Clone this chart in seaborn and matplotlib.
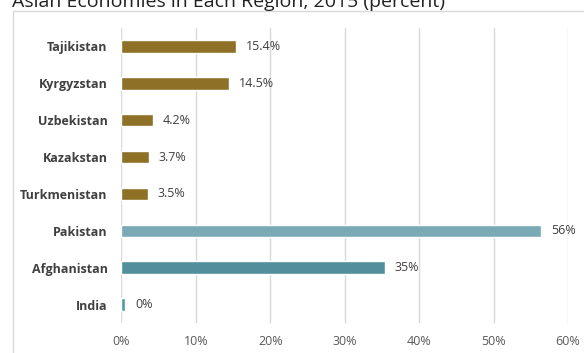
import matplotlib
matplotlib.use("Agg")
import matplotlib.pyplot as plt
from matplotlib.patches import Rectangle
from matplotlib.ticker import FuncFormatter
import seaborn as sns
import pandas as pd

countries = ["Tajikistan", "Kyrgyzstan", "Uzbekistan", "Kazakstan", "Turkmenistan",
             "Pakistan", "Afghanistan", "India"]
shares = [15.4, 14.5, 4.2, 3.7, 3.5, 56.4, 35.4, 0.5]
value_labels = ["15.4%", "14.5%", "4.2%", "3.7%", "3.5%", "56%", "35%", "0%"]
bar_colors = ["#8E7127", "#8E7127", "#8E7127", "#8E7127", "#8E7127",
              "#79AAB5", "#528F9C", "#4E9AAA"]
x_ticks = [0, 10, 20, 30, 40, 50, 60]
title = "Asian Economies in Each Region, 2015 (percent)"

df = pd.DataFrame({"country": countries, "share": shares})

sns.set_theme(style="white")
plt.rcParams["font.family"] = ["Open Sans", "DejaVu Sans"]

fig = plt.figure(figsize=(5.84, 3.53), dpi=100)
ax = fig.add_axes([0.208, 0.085, 0.7646, 0.8355])

sns.barplot(data=df, y="country", x="share", hue="country",
            palette=dict(zip(countries, bar_colors)), order=countries,
            orient="h", width=0.34, legend=False, ax=ax, saturation=1)

ax.set_xlim(0, 60)
ax.set_ylim(7.5, -0.5)
ax.set_xticks(x_ticks)
ax.xaxis.set_major_formatter(FuncFormatter(lambda v, p: f"{v:.0f}%"))
ax.grid(axis="x", color="#D9D9D9", linewidth=1)
ax.set_axisbelow(True)
for s in ax.spines.values():
    s.set_visible(False)
ax.set_xlabel("")
ax.set_ylabel("")
ax.tick_params(axis="x", length=0, pad=9, labelsize=9, labelcolor="#595959")
ax.tick_params(axis="y", length=0, pad=10, labelsize=9, labelcolor="#404040")
for lbl in ax.get_yticklabels():
    lbl.set_fontweight("bold")

for i, (v, txt) in enumerate(zip(shares, value_labels)):
    ax.annotate(txt, xy=(v, i), xytext=(7, 0), textcoords="offset points",
                va="center", ha="left", fontsize=9, color="#404040")

# frame around the chart area
fig.patches.append(Rectangle((12.5 / 584, -0.05), 1.2, 1 - 10.5 / 353 + 0.05,
                             transform=fig.transFigure, fill=False,
                             edgecolor="#D9D9D9", linewidth=1))

fig.text(12 / 584, 1 - 7 / 353, title, fontsize=14, color="#222222",
         ha="left", va="baseline")

fig.savefig("out.png", dpi=100)
